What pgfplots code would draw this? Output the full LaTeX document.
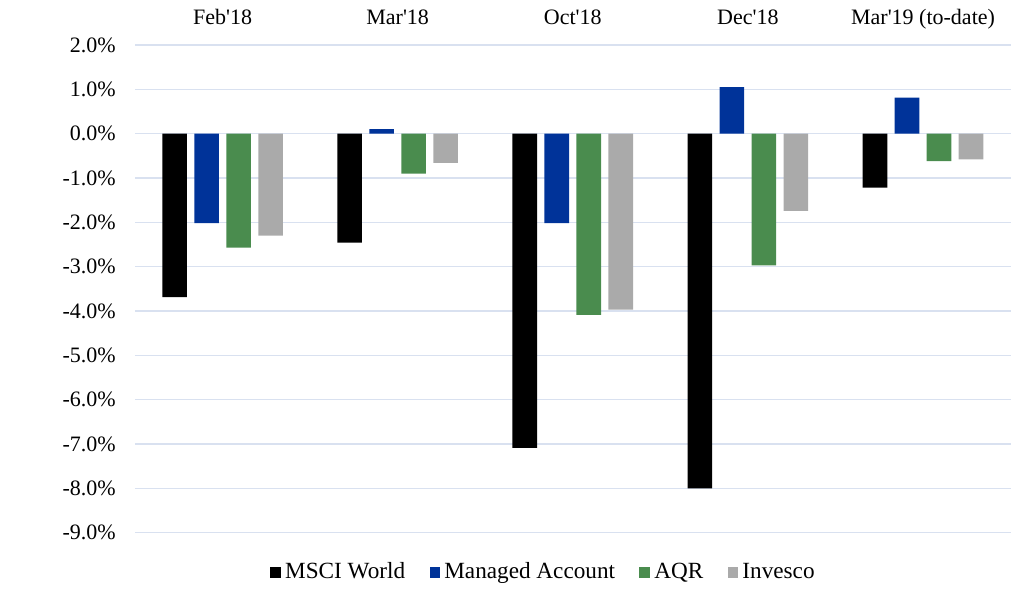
\documentclass[border=0pt]{standalone}
\usepackage{fontspec}
\setmainfont{Liberation Serif}
\usepackage{pgfplots}
\usepackage{pgfplotstable}
\pgfplotsset{compat=1.18}

\definecolor{msci}{RGB}{0,0,0}
\definecolor{managed}{RGB}{0,51,153}
\definecolor{aqr}{RGB}{74,140,78}
\definecolor{invesco}{RGB}{170,170,170}
\definecolor{gridcol}{RGB}{217,225,240}

% returns in percent, one row per period
\pgfplotstableread{
x msci managed aqr invesco
0 -3.69 -2.02 -2.57 -2.30
1 -2.46  0.10 -0.90 -0.66
2 -7.09 -2.02 -4.09 -3.97
3 -8.00  1.05 -2.97 -1.74
4 -1.22  0.81 -0.62 -0.58
}\datatable

\begin{document}
\fontsize{11}{13}\selectfont
\begin{tikzpicture}
  \path[use as bounding box] (-67.5pt,-35.15pt) rectangle (444.5pt,266.3pt);
  \begin{axis}[
    at={(0,0)}, anchor=south west,
    scale only axis,
    width=437.8pt, height=243.8pt,
    ybar=3.7pt, bar width=12.3pt,
    xmin=-0.5, xmax=4.5,
    ymin=-9, ymax=2,
    xtick={0,1,2,3,4},
    xticklabels={Feb\textquotesingle18, Mar\textquotesingle18, Oct\textquotesingle18, Dec\textquotesingle18, Mar\textquotesingle19 (to-date)},
    xticklabel pos=upper,
    x tick label style={anchor=base, yshift=10pt},
    ytick={-9,-8,...,2},
    yticklabel={\pgfmathprintnumber[fixed,fixed zerofill,precision=1,assume math mode=true]{\tick}\%},
    y tick label style={xshift=-5.8pt},
    major tick length=0pt,
    axis line style={draw=none},
    ymajorgrids,
    grid style={gridcol, line width=0.7pt},
    legend columns=-1,
    legend style={at={(0.4677,-0.082)}, anchor=center, draw=none,
      font=\fontsize{11.6}{13}\selectfont,
      /tikz/every even column/.append style={column sep=10.2pt},
      inner sep=0pt},
    legend image code/.code={\fill[#1] (0pt,-2.7pt) rectangle (5.4pt,2.7pt);},
  ]
    \addplot[fill=msci, draw=none] table[x=x, y=msci] {\datatable};
    \addlegendentry{MSCI World}
    \addplot[fill=managed, draw=none] table[x=x, y=managed] {\datatable};
    \addlegendentry{Managed Account}
    \addplot[fill=aqr, draw=none] table[x=x, y=aqr] {\datatable};
    \addlegendentry{AQR}
    \addplot[fill=invesco, draw=none] table[x=x, y=invesco] {\datatable};
    \addlegendentry{Invesco}
  \end{axis}
\end{tikzpicture}
\end{document}
